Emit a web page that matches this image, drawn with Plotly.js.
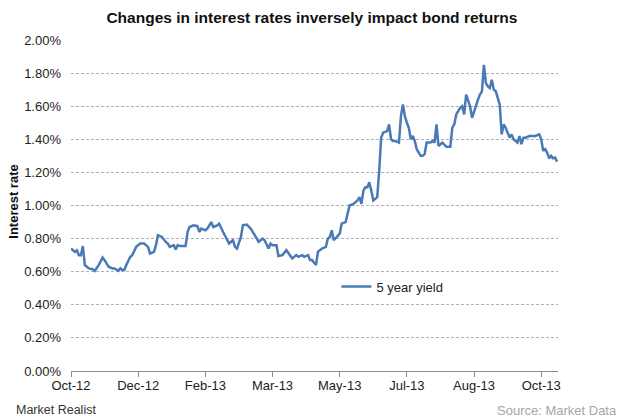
<!DOCTYPE html>
<html>
<head>
<meta charset="utf-8">
<script src="https://cdn.plot.ly/plotly-3.0.1.min.js"></script>
<style>
  html, body { margin: 0; padding: 0; background: #fff; }
  #chart { width: 620px; height: 420px; }
</style>
</head>
<body>
<div id="chart"></div>
<script>
// trading day index (from late Oct 2012) and 5 year yield, in %
var day = [0, 1, 2, 3, 4, 5, 6, 7, 8, 9, 11, 12, 14, 16, 17, 19, 21, 22, 24, 25,
  26, 27, 28, 30, 31, 33, 35, 37, 39, 40, 42, 43, 44, 46, 48, 49, 50, 52, 53, 54,
  55, 58, 59, 60, 62, 64, 65, 66, 68, 69, 71, 72, 74, 75, 77, 79, 80, 82, 83, 84,
  86, 87, 89, 91, 92, 94, 95, 97, 98, 100, 101, 102, 104, 105, 107, 109, 111, 112, 114, 115,
  117, 118, 120, 121, 122, 124, 125, 127, 129, 130, 131, 132, 133, 135, 136, 137, 139, 140, 141, 143,
  145, 146, 147, 148, 149, 150, 151, 152, 153, 154, 155, 156, 157, 158, 160, 161, 162, 163, 164, 166,
  167, 168, 169, 170, 171, 172, 173, 174, 175, 177, 178, 179, 180, 182, 183, 184, 185, 186, 187, 188,
  190, 192, 193, 194, 195, 197, 198, 199, 200, 201, 202, 203, 204, 206, 207, 208, 209, 210, 211, 212,
  213, 214, 215, 216, 217, 218, 219, 220, 221, 222, 223, 224, 225, 226, 227, 228, 229, 230, 232, 233,
  235, 237, 238, 239, 240, 241, 242, 243, 244, 245, 246];

var yield5 = [0.74, 0.73, 0.72, 0.73, 0.70, 0.70, 0.755, 0.64, 0.63, 0.62, 0.615, 0.605, 0.64, 0.685, 0.67, 0.63, 0.62, 0.62, 0.605, 0.62,
  0.61, 0.61, 0.64, 0.69, 0.70, 0.75, 0.77, 0.77, 0.75, 0.71, 0.72, 0.76, 0.82, 0.81, 0.78, 0.77, 0.75, 0.76, 0.735, 0.76,
  0.755, 0.755, 0.84, 0.87, 0.88, 0.875, 0.84, 0.86, 0.85, 0.86, 0.90, 0.87, 0.88, 0.89, 0.84, 0.79, 0.77, 0.79, 0.75, 0.74,
  0.81, 0.88, 0.885, 0.86, 0.84, 0.80, 0.78, 0.80, 0.79, 0.74, 0.77, 0.76, 0.76, 0.695, 0.70, 0.73, 0.695, 0.68, 0.70, 0.69,
  0.70, 0.69, 0.70, 0.67, 0.67, 0.64, 0.72, 0.74, 0.75, 0.80, 0.81, 0.85, 0.79, 0.82, 0.83, 0.89, 0.90, 0.95, 1.00, 1.01,
  1.03, 1.05, 1.01, 1.09, 1.11, 1.11, 1.14, 1.09, 1.03, 1.04, 1.05, 1.21, 1.41, 1.44, 1.45, 1.49, 1.40, 1.39, 1.39, 1.38,
  1.54, 1.61, 1.54, 1.50, 1.47, 1.40, 1.42, 1.39, 1.34, 1.30, 1.30, 1.31, 1.38, 1.38, 1.39, 1.38, 1.49, 1.36, 1.37, 1.38,
  1.355, 1.355, 1.47, 1.49, 1.55, 1.59, 1.60, 1.55, 1.67, 1.63, 1.60, 1.53, 1.57, 1.64, 1.67, 1.69, 1.85, 1.74, 1.72, 1.71,
  1.76, 1.70, 1.69, 1.65, 1.61, 1.43, 1.49, 1.47, 1.44, 1.41, 1.43, 1.40, 1.39, 1.38, 1.42, 1.37, 1.41, 1.41, 1.42, 1.42,
  1.42, 1.43, 1.40, 1.33, 1.34, 1.32, 1.285, 1.30, 1.285, 1.29, 1.265];

var tickDays = [0, 34, 68, 102, 136, 170, 204, 238];
var tickLabels = ['Oct-12', 'Dec-12', 'Feb-13', 'Mar-13', 'May-13', 'Jul-13', 'Aug-13', 'Oct-13'];

var font = 'Liberation Sans, Arial, sans-serif';

var trace = {
  x: day,
  y: yield5.map(function (v) { return v / 100; }),
  type: 'scatter',
  mode: 'lines',
  name: '5 year yield',
  line: {color: '#4A7AB5', width: 2.5}
};

var layout = {
  width: 620,
  height: 420,
  margin: {l: 71, r: 62, t: 40, b: 49},
  paper_bgcolor: '#fff',
  plot_bgcolor: '#fff',
  font: {family: font, size: 13, color: '#222'},
  title: {
    text: '<b>Changes in interest rates inversely impact bond returns</b>',
    font: {family: font, size: 15.5, color: '#111'},
    x: 0.503, xanchor: 'center', y: 0.957, yanchor: 'middle'
  },
  xaxis: {
    range: [0, 246.5],
    tickvals: tickDays,
    ticktext: tickLabels,
    showgrid: false,
    zeroline: false,
    showline: true,
    linecolor: '#8c8c8c',
    linewidth: 1,
    ticks: 'outside',
    ticklen: 5,
    tickcolor: '#8c8c8c',
    ticklabelstandoff: -3,
    tickfont: {size: 13, color: '#222'},
    automargin: false
  },
  yaxis: {
    range: [0, 0.02],
    dtick: 0.002,
    tickformat: '.2%',
    showgrid: true,
    gridcolor: '#b0b0b0',
    griddash: '3px,2px',
    gridwidth: 1,
    zeroline: false,
    showline: false,
    ticks: '',
    ticklabelstandoff: 9,
    tickfont: {size: 13, color: '#222'},
    automargin: false
  },
  showlegend: true,
  legend: {
    x: 0.545, xanchor: 'left',
    y: 0.255, yanchor: 'middle',
    bgcolor: 'rgba(0,0,0,0)',
    font: {size: 13, color: '#222'}
  },
  annotations: [
    {
      text: '<b>Interest rate</b>',
      xref: 'paper', yref: 'paper',
      x: -0.118, xanchor: 'center', y: 0.51, yanchor: 'middle',
      textangle: -90, showarrow: false,
      font: {family: font, size: 13, color: '#111'}
    },
    {
      text: 'Market Realist',
      xref: 'paper', yref: 'paper',
      x: -0.118, xanchor: 'left', y: -0.118, yanchor: 'middle',
      showarrow: false,
      font: {family: font, size: 12.5, color: '#333'}
    },
    {
      text: 'Source: Market Data',
      xref: 'paper', yref: 'paper',
      x: 1.126, xanchor: 'right', y: -0.118, yanchor: 'middle',
      showarrow: false,
      font: {family: font, size: 13, color: '#a6a6a6'}
    }
  ]
};

Plotly.newPlot('chart', [trace], layout, {displayModeBar: false, staticPlot: true});
</script>
</body>
</html>
